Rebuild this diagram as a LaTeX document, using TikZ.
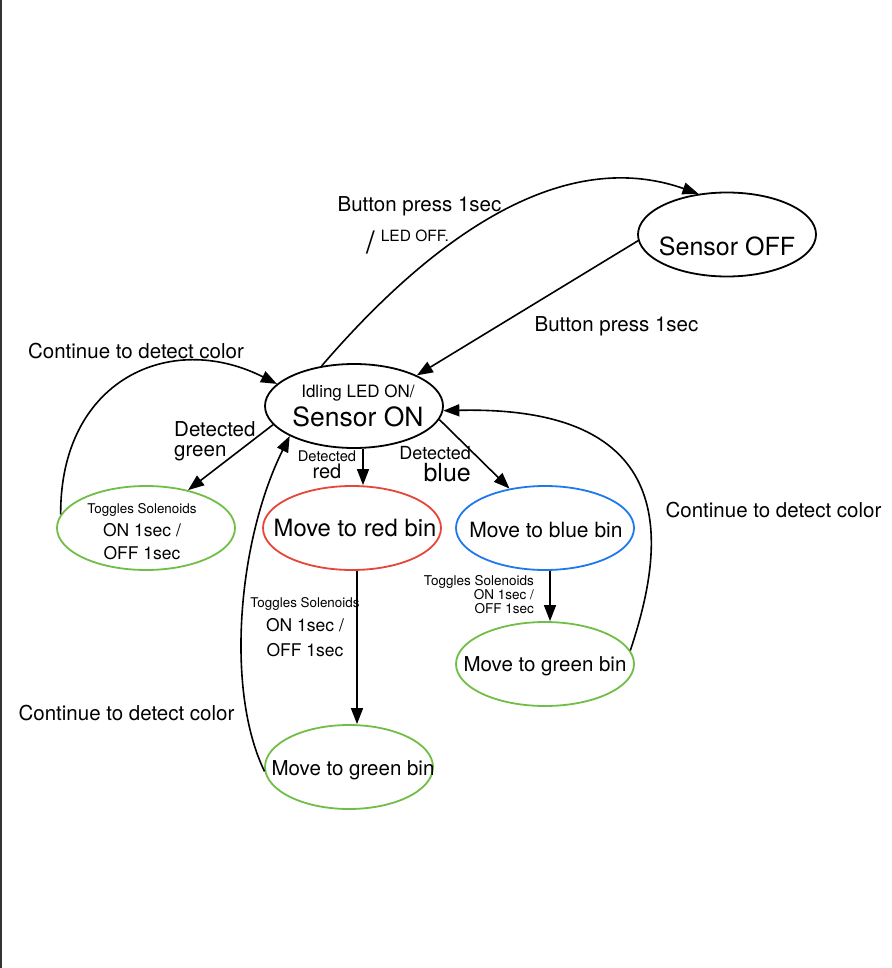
\documentclass[tikz,border=0pt]{standalone}
\usepackage{fontspec}
\setmainfont{TeX Gyre Heros}
\usepackage{xcolor}
\usepackage{tikz}
\usetikzlibrary{shapes.geometric}
\usetikzlibrary{arrows.meta}
\usetikzlibrary{calc}
\definecolor{binred}{RGB}{232,69,58}
\definecolor{binblue}{RGB}{30,120,238}
\definecolor{bingreen}{RGB}{112,190,72}
\def\fs#1#2{\fontsize{#1}{#2}\selectfont}

\begin{document}
\begin{tikzpicture}[x=1pt,y=-1pt,
        state/.style={ellipse,draw,line width=1.8pt,minimum width=178pt,minimum height=84pt,inner sep=0pt},
        trans/.style={line width=1.6pt,-{Triangle[length=16pt,width=12pt]}},
        lbl/.style={inner sep=0pt,font=\fs{20.5}{24}},
        every label/.style={inner sep=0pt,align=center}]
        \useasboundingbox (0,0) rectangle (891,968);
        \draw[line width=2pt,draw=black!80] (1,0) -- (1,968);

        %%% STATES %%%
        \node[state,label={[yshift=-11.5pt,font=\fs{25}{30}]center:Sensor OFF}] (off) at (727,234.5) {};
        \node[state,label={[xshift=4pt,font=\fs{17}{29}]center:{Idling LED ON/\\{\fs{26.5}{29}Sensor ON}}}] (on) at (354,406) {};
        \node[state,draw=bingreen,label={[xshift=-4pt,yshift=-4pt,font=\fs{17.5}{23}]center:{{\fs{13.4}{23}Toggles Solenoids}\\ON 1sec /\\OFF 1sec}}] (toggle) at (146,528) {};
        \node[state,draw=binred,label={[xshift=3pt,font=\fs{23.8}{28}]center:Move to red bin}] (red) at (352,528) {};
        \node[state,draw=binblue,label={[xshift=1pt,yshift=-2pt,font=\fs{21}{25}]center:Move to blue bin}] (blue) at (545,528) {};
        \node[state,draw=bingreen,label={[yshift=-2pt,font=\fs{20.5}{25}]center:Move to green bin}] (rgreen) at (545,664) {};
        \node[state,draw=bingreen,minimum width=168pt,label={[xshift=4pt,yshift=-3pt,font=\fs{20.5}{25}]center:Move to green bin}] (bgreen) at (349,767) {};

        %%% TRANSITIONS %%%
        \draw[trans] (on.129) .. controls (430,240) and (560,145) .. (off.125);
        \draw[trans] (off.184) -- (on.26);
        \draw[trans] (toggle.171) .. controls (60,380) and (170,330) .. (on.164);
        \draw[trans] (on.193) -- (toggle.42);
        \draw[trans] ($(on.south)+(9,0)$) -- ($(red.north)+(11,0)$);
        \draw[trans] (on.-9) -- (blue.132);
        \draw[trans] ($(blue.south)+(5,0)$) -- ($(rgreen.north)+(5,0)$);
        \draw[trans] ($(red.south)+(5,0)$) -- ($(bgreen.north)+(8,0)$);
        \draw[trans] (bgreen.183) .. controls (225,690) and (238,540) .. (on.205);
        \draw[trans] (rgreen.9) .. controls (662,555) and (690,405) .. (on.-3);

        %%% LABELS %%%
        \node[lbl,anchor=base] (presstop) at (419.5,212) {Button press 1sec};
        \node[lbl,anchor=base west,font=\fs{15.5}{18}] (ledoff) at (366,241) {\raisebox{-12pt}{\fs{31}{31}/}\hspace{6pt}LED OFF.};
        \node[lbl,anchor=base] (pressmid) at (616.5,331) {Button press 1sec};
        \node[lbl,anchor=base] (contleft) at (136,358) {Continue to detect color};
        \node[lbl,anchor=base] (contright) at (773.5,517) {Continue to detect color};
        \node[lbl,anchor=base] (contbottom) at (126.5,720) {Continue to detect color};
        \node[lbl,anchor=west,align=left,font=\fs{20.5}{20}] (detgreen) at (174,441.5) {Detected\\green};
        \node[lbl,align=center,font=\fs{20}{17}] (detred) at (327,465) {{\fs{14.7}{17}Detected}\\red};
        \node[lbl,anchor=east,align=right,font=\fs{25}{22}] (detblue) at (471,464.5) {{\fs{18}{22}Detected}\\blue};
        \node[lbl,anchor=east,align=right,font=\fs{13.5}{14}] (toggleright) at (534,595) {Toggles Solenoids\\ON 1sec /\\OFF 1sec};
        \node[lbl,align=center,font=\fs{17.5}{24.5}] (togglemid) at (305,626.7) {{\fs{13.4}{24.5}Toggles Solenoids}\\ON 1sec /\\OFF 1sec};
\end{tikzpicture}
\end{document}
